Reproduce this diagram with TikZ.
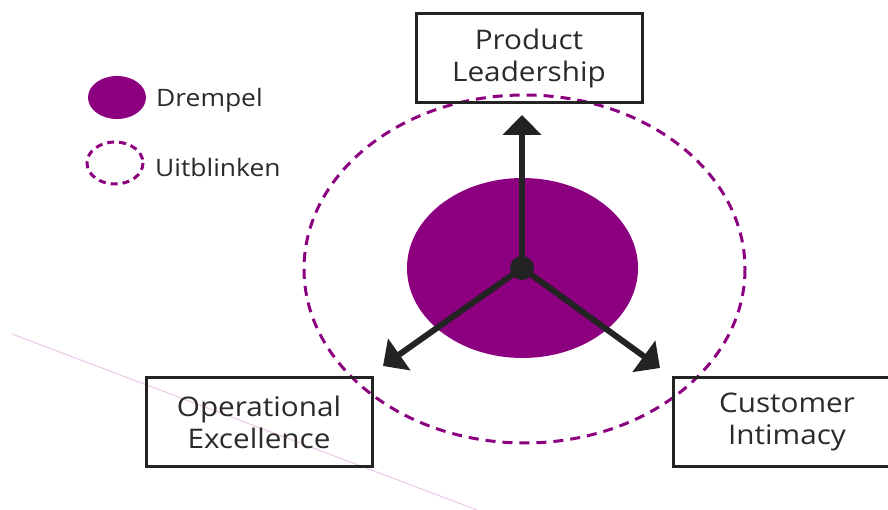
\documentclass[tikz,border=0pt]{standalone}
\usepackage{fontspec}
\setmainfont[FakeStretch=1.1]{Open Sans}
\usetikzlibrary{arrows.meta}
\definecolor{plum}{RGB}{140,0,128}
\definecolor{ink}{RGB}{35,35,35}
\definecolor{txt}{RGB}{42,42,42}
\definecolor{faint}{RGB}{236,200,230}
\begin{document}
\begin{tikzpicture}[x=1pt,y=-1pt,
  labelbox/.style={draw=ink, line width=3pt, minimum width=226pt, minimum height=89pt,
    inner sep=0pt, align=center, font=\fontsize{27}{32}\selectfont, text=txt},
  legendtext/.style={anchor=base west, inner sep=0pt, font=\fontsize{24}{26}\selectfont, text=txt},
  ring/.style={draw=plum, line width=3pt, dash pattern=on 10pt off 7pt},
  spoke/.style={draw=ink, line width=6pt, -{Triangle[length=20pt,width=38pt]}}]
\useasboundingbox (0,0) rectangle (888,510);
\clip (0,0) rectangle (888,510);

% faint guide line
\coordinate (g1) at (12,334);
\coordinate (g2) at (477,510);
\draw[faint, line width=1pt] (g1) -- (g2);

% legend
\fill[plum] (117,97.5) ellipse [x radius=29, y radius=21.5];
\draw[draw=plum, line width=3pt, dash pattern=on 7pt off 5pt] (115,163) ellipse [x radius=28, y radius=21];
\node[legendtext] (drempel) at (156,107) {Drempel};
\node[legendtext] (uitblinken) at (155,177) {Uitblinken};

% threshold and excellence regions
\fill[plum] (522.5,268) ellipse [x radius=115.5, y radius=90];
\draw[ring] (524.5,269) ellipse [x radius=220.5, y radius=174];

% boxes
\node[labelbox] (pl) at (529,58.5) {Product\\Leadership};
\node[labelbox] (oe) at (259,422) {Operational\\Excellence};
\node[labelbox, minimum width=228pt] (ci) at (787,421.5) {Customer\\Intimacy};

% hub and spokes
\coordinate (hub) at (522,268);
\coordinate (tipN) at (522,115);
\coordinate (tipW) at (383,366);
\coordinate (tipE) at (660,368);
\draw[spoke] (hub) -- (tipN);
\draw[spoke] (hub) -- (tipW);
\draw[spoke] (hub) -- (tipE);
\fill[ink] (hub) circle[radius=12];
\end{tikzpicture}
\end{document}
